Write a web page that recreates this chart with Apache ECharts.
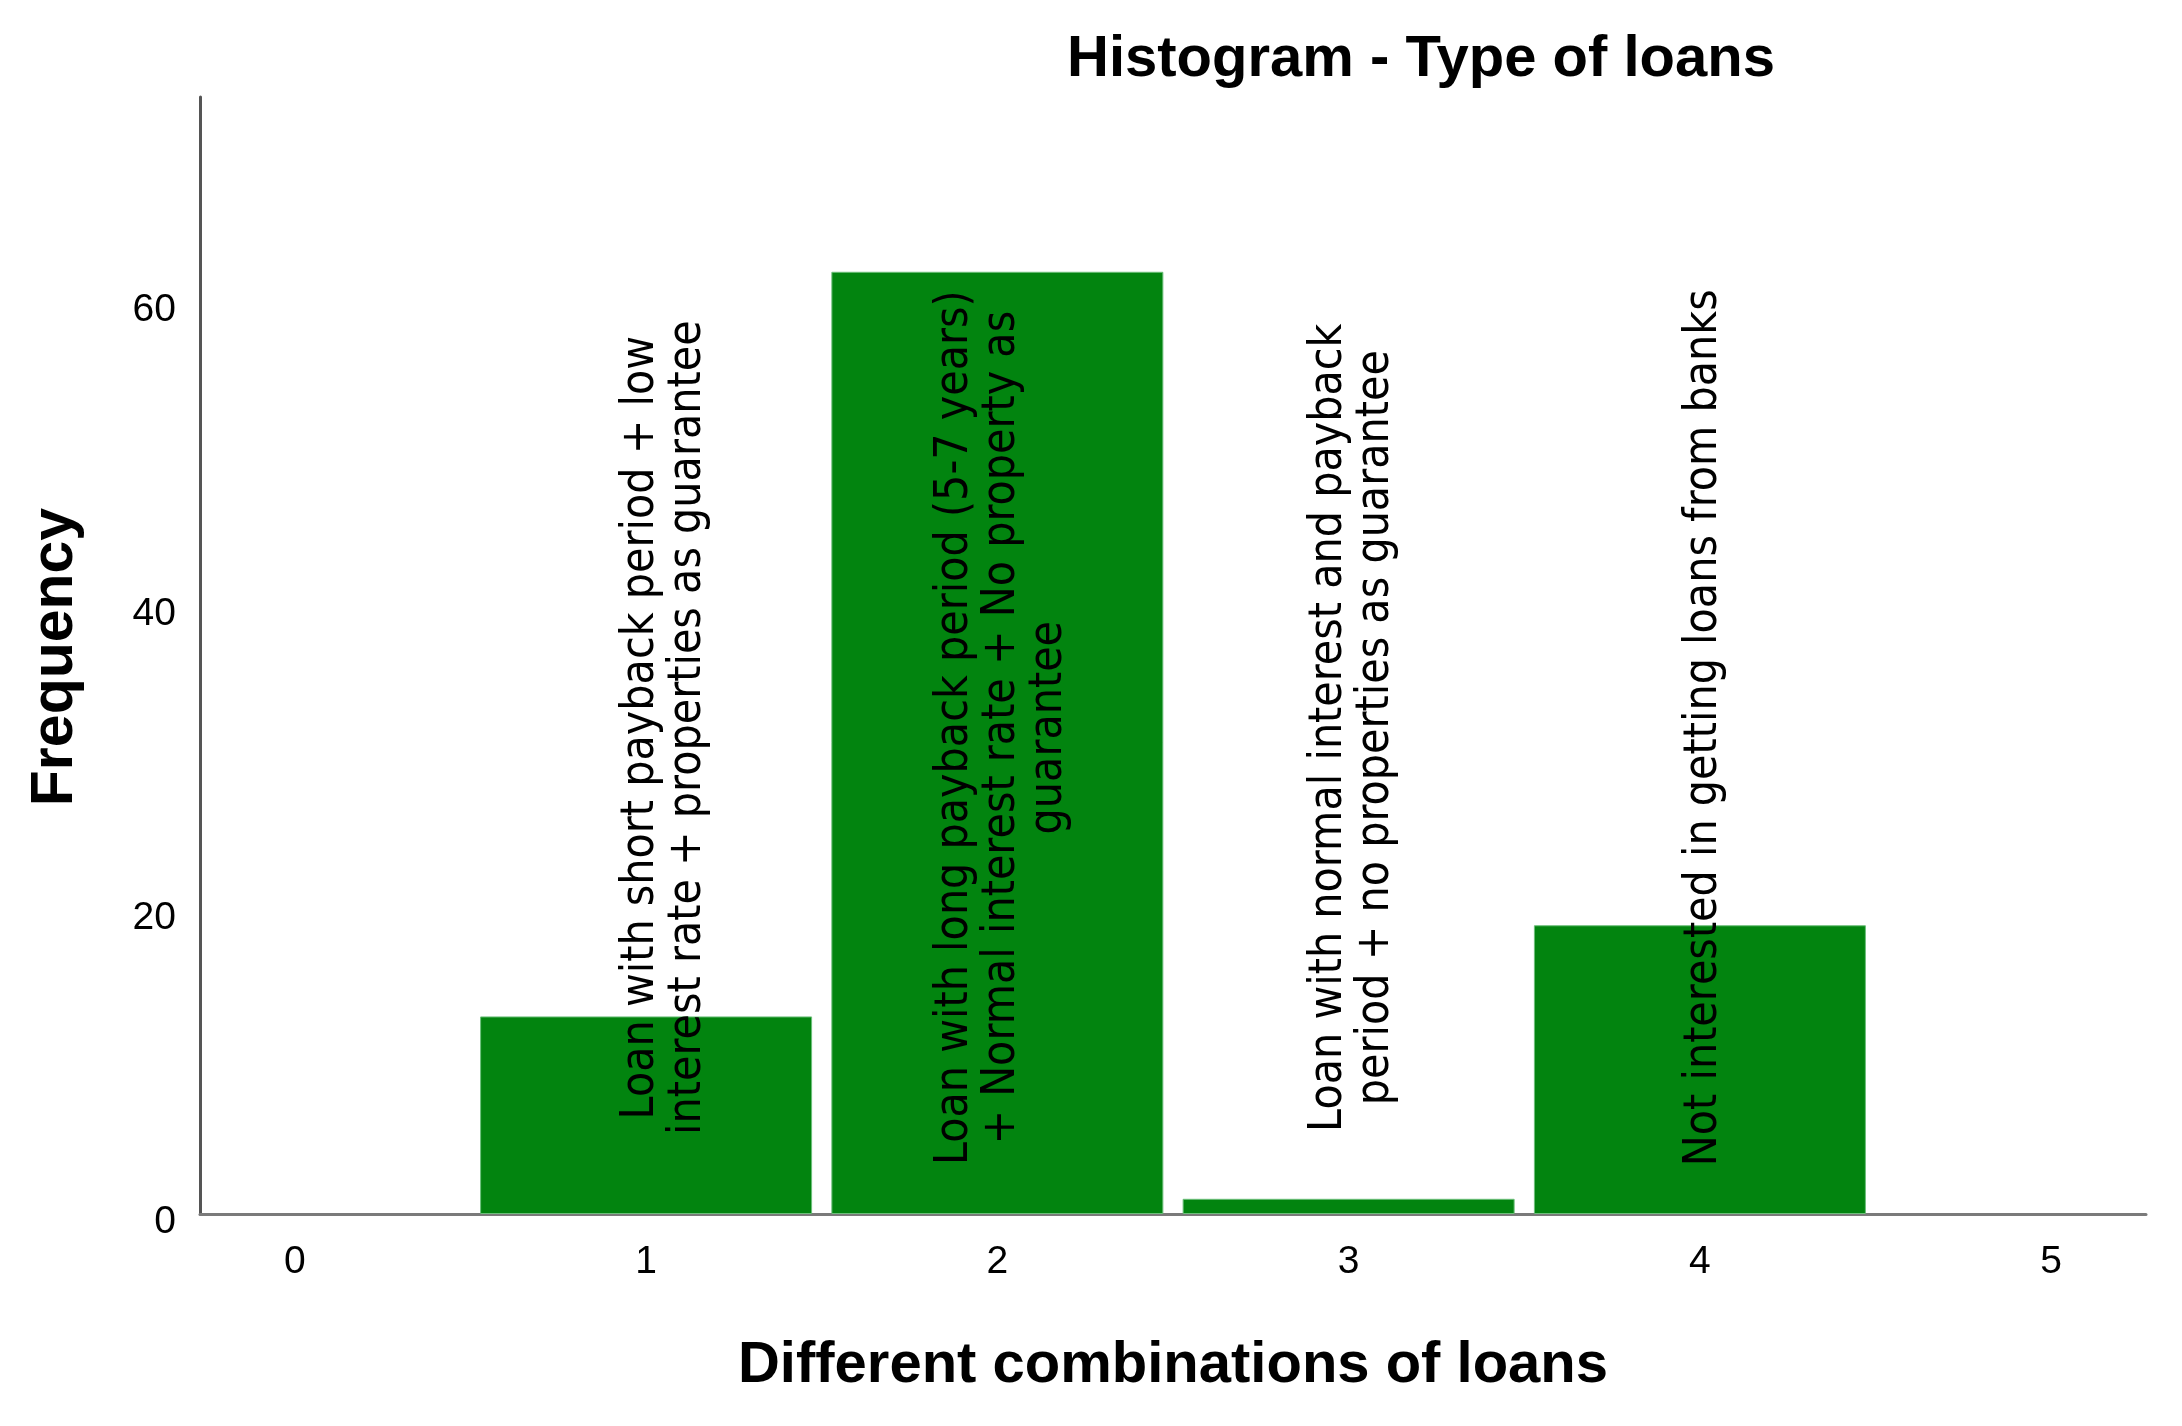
<!DOCTYPE html>
<html>
<head>
<meta charset="utf-8">
<script src="https://cdn.jsdelivr.net/npm/echarts@6/dist/echarts.min.js"></script>
<style>
  html, body { margin: 0; padding: 0; background: #fff; }
  #chart { width: 2182px; height: 1426px; }
</style>
</head>
<body>
<div id="chart"></div>
<script>
// ---- data ----
const categories = [1, 2, 3, 4];
const frequencies = [13, 62, 1, 19];
const categoryLabels = [
  "Loan with short payback period + low\ninterest rate + properties as guarantee",
  "Loan with long payback period (5-7 years)\n+ Normal interest rate + No property as\nguarantee",
  "Loan with normal interest and payback\nperiod + no properties as guarantee",
  "Not interested in getting loans from banks"
];
const xTicks = [0, 1, 2, 3, 4, 5];
const yTicks = [0, 20, 40, 60];
const titleText = "Histogram - Type of loans";
const xAxisName = "Different combinations of loans";
const yAxisName = "Frequency";

// ---- chart ----
const chart = echarts.init(document.getElementById('chart'), null, { renderer: 'canvas' });
const GREEN = '#02840f';
const LABEL_Y = 32;
const LABEL_NUDGE_PX = [18, 4, 4, 4];

const barData = categories.map((c, i) => [c, frequencies[i]]);
const labelData = categories.map((c, i) => [c, LABEL_Y, i]);

const option = {
  animation: false,
  backgroundColor: '#ffffff',
  grid: { left: 200, right: 36, top: 97, bottom: 212, containLabel: false },
  xAxis: {
    type: 'value',
    min: -0.27,
    max: 5.27,
    splitLine: { show: false },
    axisTick: { show: false },
    axisLine: { show: true, onZero: false, lineStyle: { color: '#7a7a7a', width: 3 } },
    axisLabel: {
      customValues: xTicks,
      color: '#000',
      fontFamily: 'Liberation Sans',
      fontSize: 39,
      margin: 29
    }
  },
  yAxis: {
    type: 'value',
    min: 0,
    max: 73.5,
    splitLine: { show: false },
    axisTick: { show: false },
    axisLine: { show: true, onZero: false, lineStyle: { color: '#555555', width: 3 } },
    axisLabel: {
      customValues: yTicks,
      color: '#000',
      fontFamily: 'Liberation Sans',
      fontSize: 39,
      margin: 24,
      verticalAlign: 'top',
      lineHeight: 16
    }
  },
  graphic: [
    {
      type: 'text', x: 1421, y: 60,
      style: { text: titleText, font: 'bold 58px "Liberation Sans", Arial, sans-serif', fill: '#000', textAlign: 'center', textVerticalAlign: 'middle' }
    },
    {
      type: 'text', x: 1173, y: 1366,
      style: { text: xAxisName, font: 'bold 58px "Liberation Sans", Arial, sans-serif', fill: '#000', textAlign: 'center', textVerticalAlign: 'middle' }
    },
    {
      type: 'text', x: 56, y: 657, rotation: Math.PI / 2,
      style: { text: yAxisName, font: 'bold 59px "Liberation Sans", Arial, sans-serif', fill: '#000', textAlign: 'center', textVerticalAlign: 'middle' }
    }
  ],
  series: [
    {
      type: 'bar',
      data: barData,
      barWidth: 332,
      itemStyle: { color: GREEN, borderColor: '#6cbf7a', borderWidth: 1 },
      z: 2
    },
    {
      type: 'custom',
      data: labelData,
      z: 5,
      silent: true,
      renderItem: function (params, api) {
        const p = api.coord([api.value(0), api.value(1)]);
        const idx = api.value(2);
        return {
          type: 'text',
          x: p[0] + LABEL_NUDGE_PX[idx],
          y: p[1],
          rotation: Math.PI / 2,
          scaleX: 0.88,
          scaleY: 1,
          style: {
            text: categoryLabels[idx],
            font: '47px "DejaVu Sans", sans-serif',
            lineHeight: 47,
            fill: '#000',
            textAlign: 'center',
            textVerticalAlign: 'middle'
          }
        };
      }
    }
  ]
};
chart.setOption(option);
</script>
</body>
</html>
